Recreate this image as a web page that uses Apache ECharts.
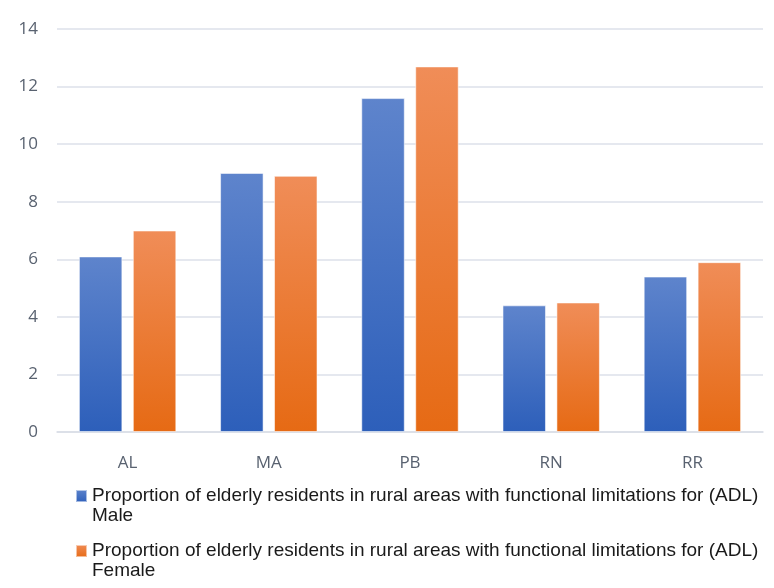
<!DOCTYPE html>
<html>
<head>
<meta charset="utf-8">
<script src="https://cdn.jsdelivr.net/npm/echarts@6/dist/echarts.min.js"></script>
<style>html,body{margin:0;padding:0;background:#fff;}#c{width:774px;height:588px;}</style>
</head>
<body>
<div id="c"></div>
<script>
const categories = ['AL', 'MA', 'PB', 'RN', 'RR'];
const maleValues = [6.1, 9.0, 11.6, 4.4, 5.4];
const femaleValues = [7.0, 8.9, 12.7, 4.5, 5.9];
const yTicks = [0, 2, 4, 6, 8, 10, 12, 14];
const maleName = 'Proportion of elderly residents in rural areas with functional limitations for (ADL) Male';
const femaleName = 'Proportion of elderly residents in rural areas with functional limitations for (ADL) Female';

const chart = echarts.init(document.getElementById('c'));
const grad = (a, b) => new echarts.graphic.LinearGradient(0, 0, 0, 1, [{offset: 0, color: a}, {offset: 1, color: b}]);
chart.setOption({
  animation: false,
  backgroundColor: '#ffffff',
  grid: {left: 57, right: 11, top: 29, bottom: 156},
  xAxis: {
    type: 'category',
    data: categories,
    axisLine: {show: true, lineStyle: {color: '#d9dde6', width: 1.5}},
    axisTick: {show: false},
    axisLabel: {color: '#596270', fontSize: 17, fontFamily: 'Open Sans', margin: 23}
  },
  yAxis: {
    type: 'value',
    min: yTicks[0],
    max: yTicks[yTicks.length - 1],
    interval: 2,
    axisLine: {show: false},
    axisTick: {show: false},
    splitLine: {lineStyle: {color: '#dde1ea', width: 1.5}},
    axisLabel: {color: '#596270', fontSize: 17, fontFamily: 'Open Sans', margin: 19}
  },
  legend: {
    orient: 'vertical',
    left: 75,
    top: 466,
    height: 122,
    padding: 0,
    itemGap: -5,
    itemWidth: 11,
    itemHeight: 12,
    icon: 'rect',
    formatter: function (n) { return '\n' + n.replace(/ (Male|Female)$/, '\n$1'); },
    textStyle: {color: '#1a1a1a', fontSize: 19, fontFamily: 'Liberation Sans', lineHeight: 20},
    data: [maleName, femaleName]
  },
  series: [
    {
      name: maleName,
      type: 'bar',
      data: maleValues,
      barGap: '24%',
      barCategoryGap: '31%',
      itemStyle: {color: grad('#5e84cc', '#2d5fba'), borderColor: 'rgba(255,255,255,0.55)', borderWidth: 1}
    },
    {
      name: femaleName,
      type: 'bar',
      data: femaleValues,
      itemStyle: {color: grad('#f08d58', '#e66a14'), borderColor: 'rgba(255,255,255,0.55)', borderWidth: 1}
    }
  ]
});
</script>
</body>
</html>
